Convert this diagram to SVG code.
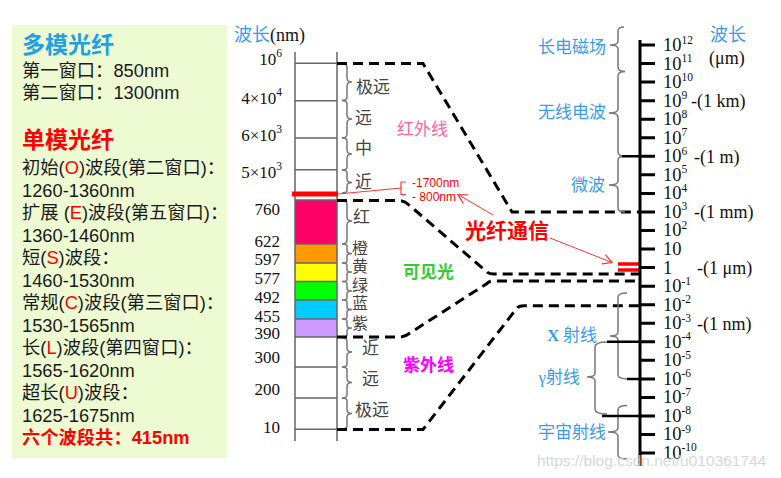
<svg xmlns="http://www.w3.org/2000/svg" width="781" height="478" viewBox="0 0 781 478">
<defs>
<style>
.lt{font-family:"Liberation Sans","Noto Sans CJK SC",sans-serif;font-size:18.3px;fill:#1a1a1a}
.r{fill:#ff0000}
.hd{font-family:"Liberation Sans","Noto Sans CJK SC",sans-serif;font-size:23px;font-weight:bold}
.cl{font-family:"Liberation Serif",serif;font-size:17px;fill:#111;text-anchor:end}
.tk{font-family:"Liberation Serif",serif;font-size:18.5px;fill:#111}
.sp{font-size:11.5px}
.bl{font-family:"Noto Sans CJK SC",sans-serif;font-size:17px;fill:#3a9bf0}
.gy{font-family:"Noto Sans CJK SC",sans-serif;font-size:17px;fill:#444}
.gs{font-family:"Noto Sans CJK SC",sans-serif;font-size:16px;fill:#444}
.col{stroke:#666;stroke-width:1.5;fill:none}
.br{stroke:#777;stroke-width:1.5;fill:none}
.dash{stroke:#000;stroke-width:3;fill:none;stroke-dasharray:10 6}
.tick{stroke:#000;stroke-width:3}
</style>
<marker id="ar" markerWidth="12" markerHeight="12" refX="10" refY="6" orient="auto" markerUnits="userSpaceOnUse">
<path d="M1 1 L10 6 L1 11" fill="none" stroke="#ff3333" stroke-width="1.2"/>
</marker>
</defs>
<rect width="781" height="478" fill="#fff"/>

<g id="left-panel">
<rect x="12" y="25" width="215" height="433" fill="#eefad2"/>
<text class="hd" x="22" y="53" fill="#1fa0e6">多模光纤</text>
<text class="lt" x="22" y="77">第一窗口：850nm</text>
<text class="lt" x="22" y="99">第二窗口：1300nm</text>
<text class="hd" x="22" y="148" fill="#ff0000">单模光纤</text>
<text class="lt" x="22" y="174">初始(<tspan class="r">O</tspan>)波段(第二窗口)：</text>
<text class="lt" x="22" y="196.5">1260-1360nm</text>
<text class="lt" x="22" y="219">扩展 (<tspan class="r">E</tspan>)波段(第五窗口)：</text>
<text class="lt" x="22" y="241.5">1360-1460nm</text>
<text class="lt" x="22" y="264">短(<tspan class="r">S</tspan>)波段：</text>
<text class="lt" x="22" y="286.5">1460-1530nm</text>
<text class="lt" x="22" y="309">常规(<tspan class="r">C</tspan>)波段(第三窗口)：</text>
<text class="lt" x="22" y="331.5">1530-1565nm</text>
<text class="lt" x="22" y="354">长(<tspan class="r">L</tspan>)波段(第四窗口)：</text>
<text class="lt" x="22" y="376.5">1565-1620nm</text>
<text class="lt" x="22" y="399">超长(<tspan class="r">U</tspan>)波段：</text>
<text class="lt" x="22" y="421.5">1625-1675nm</text>
<text class="lt" x="22" y="444" style="fill:#ff0000;font-weight:bold">六个波段共：415nm</text>
</g>

<g id="nm-column">
<text x="234" y="41" style="font-family:'Noto Sans CJK SC',sans-serif;font-size:18px;fill:#3a9bf0">波长<tspan style="font-family:'Liberation Serif',serif;fill:#111">(nm)</tspan></text>
<rect x="295" y="200" width="42" height="44" fill="#ff0066"/>
<rect x="295" y="244" width="42" height="19" fill="#ff9900"/>
<rect x="295" y="263" width="42" height="18.5" fill="#ffff00"/>
<rect x="295" y="281.5" width="42" height="18.5" fill="#00ff00"/>
<rect x="295" y="300" width="42" height="19" fill="#00ccff"/>
<rect x="295" y="319" width="42" height="18" fill="#cc99ff"/>
<path class="col" d="M295 52 V441 M337 52 V441 M295 63.3 H337 M295 100.7 H337 M295 138 H337 M295 169.7 H337 M295 200 H337 M295 244 H337 M295 263 H337 M295 281.5 H337 M295 300 H337 M295 319 H337 M295 337 H337 M295 367 H337 M295 398 H337 M295 429.3 H337"/>
<text class="cl" x="282" y="65">10<tspan class="sp" dy="-8">6</tspan></text>
<text class="cl" x="282" y="104">4×10<tspan class="sp" dy="-8">4</tspan></text>
<text class="cl" x="282" y="141">6×10<tspan class="sp" dy="-8">3</tspan></text>
<text class="cl" x="282" y="178">5×10<tspan class="sp" dy="-8">3</tspan></text>
<text class="cl" x="280" y="215">760</text>
<text class="cl" x="280" y="246.5">622</text>
<text class="cl" x="280" y="265">597</text>
<text class="cl" x="280" y="284">577</text>
<text class="cl" x="280" y="303">492</text>
<text class="cl" x="280" y="321.5">455</text>
<text class="cl" x="280" y="339">390</text>
<text class="cl" x="280" y="362.5">300</text>
<text class="cl" x="280" y="395">200</text>
<text class="cl" x="280" y="432.5">10</text>
<line x1="292" y1="194" x2="338" y2="194" stroke="#ff0000" stroke-width="5"/>
</g>

<g id="nm-braces">
<path class="br" d="M342 63.5 Q347 63.5 347 67 L347 78 Q347 82 352 82 Q347 82 347 86 L347 97 Q347 100.5 342 100.5"/>
<path class="br" d="M342 100.5 Q347 100.5 347 104 L347 115 Q347 119 352 119 Q347 119 347 123 L347 134 Q347 138 342 138"/>
<path class="br" d="M342 138 Q347 138 347 141 L347 150 Q347 154 352 154 Q347 154 347 158 L347 167 Q347 170 342 170"/>
<path class="br" d="M342 170 Q347 170 347 173 L347 179 Q347 182.5 352 182.5 Q347 182.5 347 186 L347 190 Q347 193 342 193"/>
<path class="br" d="M342 201 Q347 201 347 204 L347 217 Q347 221 352 221 Q347 221 347 225 L347 240 Q347 244 342 244"/>
<path class="br" d="M342 244 Q347 244 347 246 L347 251 Q347 253.5 352 253.5 Q347 253.5 347 256 L347 261 Q347 263 342 263"/>
<path class="br" d="M342 263 Q347 263 347 265 L347 270 Q347 272 352 272 Q347 272 347 274 L347 279.5 Q347 281.5 342 281.5"/>
<path class="br" d="M342 281.5 Q347 281.5 347 283.5 L347 288.5 Q347 291 352 291 Q347 291 347 293.5 L347 298 Q347 300 342 300"/>
<path class="br" d="M342 300 Q347 300 347 302 L347 307 Q347 309.5 352 309.5 Q347 309.5 347 312 L347 317 Q347 319 342 319"/>
<path class="br" d="M342 319 Q347 319 347 321 L347 325.5 Q347 328 352 328 Q347 328 347 330.5 L347 335 Q347 337 342 337"/>
<path class="br" d="M342 338 Q347 338 347 341 L347 348 Q347 352 352 352 Q347 352 347 356 L347 364 Q347 367 342 367"/>
<path class="br" d="M342 367 Q347 367 347 370 L347 378.5 Q347 382.5 352 382.5 Q347 382.5 347 386.5 L347 395 Q347 398 342 398"/>
<path class="br" d="M342 398 Q347 398 347 401 L347 410 Q347 413.5 352 413.5 Q347 413.5 347 417 L347 426 Q347 429 342 429"/>
<text class="gy" x="356" y="92.5">极远</text>
<text class="gy" x="355" y="124">远</text>
<text class="gy" x="355" y="154">中</text>
<text class="gy" x="355" y="188">近</text>
<text class="gy" x="353" y="223">红</text>
<text class="gs" x="352" y="253.5">橙</text>
<text class="gs" x="352" y="272">黄</text>
<text class="gs" x="352" y="290.5">绿</text>
<text class="gs" x="352" y="309">蓝</text>
<text class="gs" x="352" y="328.5">紫</text>
<text class="gy" x="362" y="354">近</text>
<text class="gy" x="362" y="385">远</text>
<text class="gy" x="355" y="416">极远</text>
</g>

<g id="connectors">
<path class="dash" d="M337 63.5 H423 L512 212 H640"/>
<path class="dash" d="M337 200.5 H398 Q404 200.5 409 205 L487 272 Q489 274 494 274 H640"/>
<path class="dash" d="M337 337 H400 Q405 337 410 333 L487 283.5 Q489 281 494 281 H640"/>
<path class="dash" d="M337 429.5 H423 L517 308 Q519 305.7 524 305.7 H640"/>
</g>

<g id="region-labels">
<text x="397" y="135" style="font-family:'Noto Sans CJK SC',sans-serif;font-size:17px;fill:#ff6699">红外线</text>
<text x="403" y="277.5" style="font-family:'Noto Sans CJK SC',sans-serif;font-size:17px;font-weight:bold;fill:#33cc33">可见光</text>
<text x="403" y="371" style="font-family:'Noto Sans CJK SC',sans-serif;font-size:17px;font-weight:bold;fill:#ff00ff">紫外线</text>
</g>

<g id="fiber-annotation">
<line x1="338" y1="194" x2="401" y2="188" stroke="#ff3333" stroke-width="1"/>
<path d="M406 182 H401 V194.5 H406" fill="none" stroke="#ff3333" stroke-width="1.2"/>
<text x="412" y="186.5" style="font-family:'Liberation Sans',sans-serif;font-size:12px;fill:#ff0000">-1700nm</text>
<text x="412" y="201" style="font-family:'Liberation Sans',sans-serif;font-size:12px;fill:#ff0000">- 800nm</text>
<text x="465" y="237.5" style="font-family:'Noto Sans CJK SC',sans-serif;font-size:21px;font-weight:bold;fill:#ff0000">光纤通信</text>
<line x1="493" y1="215" x2="458" y2="194.5" stroke="#ff3333" stroke-width="1" marker-end="url(#ar)"/>
<line x1="550" y1="238" x2="612" y2="262.5" stroke="#ff3333" stroke-width="1" marker-end="url(#ar)"/>
<line x1="618" y1="264" x2="641" y2="264" stroke="#ff0000" stroke-width="3.5"/>
<line x1="618" y1="270" x2="641" y2="270" stroke="#ff0000" stroke-width="3.5"/>
</g>

<g id="um-axis">
<text x="710" y="41" style="font-family:'Noto Sans CJK SC',sans-serif;font-size:18px;fill:#3a9bf0">波长</text>
<text class="tk" x="709" y="64" style="font-size:18px">(μm)</text>
<line x1="640" y1="40" x2="640" y2="466" stroke="#000" stroke-width="3"/>
<path class="tick" d="M640 45 H655 M640 63.55 H655 M640 82.1 H655 M640 100.65 H655 M640 119.2 H655 M640 137.75 H655 M640 156.3 H655 M640 174.85 H655 M640 193.4 H655 M640 211.95 H655 M640 230.5 H655 M640 249.05 H655 M640 267.6 H655 M640 286.15 H655 M640 304.7 H655 M640 323.25 H655 M640 341.8 H655 M640 360.35 H655 M640 378.9 H655 M640 397.45 H655 M640 416 H655 M640 434.55 H655 M640 453.1 H655"/>
<text class="tk" x="663" y="51">10<tspan class="sp" dy="-7.5">12</tspan></text>
<text class="tk" x="663" y="69.5">10<tspan class="sp" dy="-7.5">11</tspan></text>
<text class="tk" x="663" y="88">10<tspan class="sp" dy="-7.5">10</tspan></text>
<text class="tk" x="663" y="106.5">10<tspan class="sp" dy="-7.5">9</tspan></text>
<text class="tk" x="663" y="125">10<tspan class="sp" dy="-7.5">8</tspan></text>
<text class="tk" x="663" y="143.5">10<tspan class="sp" dy="-7.5">7</tspan></text>
<text class="tk" x="663" y="162">10<tspan class="sp" dy="-7.5">6</tspan></text>
<text class="tk" x="663" y="180.5">10<tspan class="sp" dy="-7.5">5</tspan></text>
<text class="tk" x="663" y="199">10<tspan class="sp" dy="-7.5">4</tspan></text>
<text class="tk" x="663" y="217.5">10<tspan class="sp" dy="-7.5">3</tspan></text>
<text class="tk" x="663" y="236">10<tspan class="sp" dy="-7.5">2</tspan></text>
<text class="tk" x="663" y="255">10</text>
<text class="tk" x="663" y="273.5">1</text>
<text class="tk" x="663" y="292">10<tspan class="sp" dy="-7.5">-1</tspan></text>
<text class="tk" x="663" y="310.5">10<tspan class="sp" dy="-7.5">-2</tspan></text>
<text class="tk" x="663" y="329">10<tspan class="sp" dy="-7.5">-3</tspan></text>
<text class="tk" x="663" y="347.5">10<tspan class="sp" dy="-7.5">-4</tspan></text>
<text class="tk" x="663" y="366">10<tspan class="sp" dy="-7.5">-5</tspan></text>
<text class="tk" x="663" y="384.5">10<tspan class="sp" dy="-7.5">-6</tspan></text>
<text class="tk" x="663" y="403">10<tspan class="sp" dy="-7.5">-7</tspan></text>
<text class="tk" x="663" y="421.5">10<tspan class="sp" dy="-7.5">-8</tspan></text>
<text class="tk" x="663" y="440">10<tspan class="sp" dy="-7.5">-9</tspan></text>
<text class="tk" x="663" y="458.5">10<tspan class="sp" dy="-7.5">-10</tspan></text>
<text class="tk" x="691" y="107" style="font-size:18px">-(1 km)</text>
<text class="tk" x="694" y="162.5" style="font-size:18px">-(1 m)</text>
<text class="tk" x="694" y="218" style="font-size:18px">-(1 mm)</text>
<text class="tk" x="697" y="274" style="font-size:18px">-(1 μm)</text>
<text class="tk" x="697" y="330" style="font-size:18px">-(1 nm)</text>
</g>

<g id="em-bands">
<path class="br" d="M624 27 Q618 27 618 31 L618 41 Q618 45 610 45 Q618 45 618 49 L618 67 Q618 71.5 625 71.5"/>
<path class="br" d="M625 71.5 Q618 71.5 618 76 L618 109 Q618 113 609 113 Q618 113 618 117 L618 152 Q618 156.3 625 156.3"/>
<path class="br" d="M625 156.3 Q618 156.3 618 160 L618 181 Q618 185 609 185 Q618 185 618 189 L618 208 Q618 212 625 212"/>
<path class="br" d="M627 293 Q618 293 618 297 L618 332 Q618 336 610 336 Q618 336 618 340 L618 375 Q618 378.9 628 378.9"/>
<path class="br" d="M607 342 Q595 342 595 347 L595 373 Q595 377 587 377 Q595 377 595 381 L595 409 Q595 414 607 414"/>
<path class="br" d="M627 405.5 Q618 405.5 618 410 L618 428 Q618 432 608 432 Q618 432 618 436 L618 455 Q618 459 627 459"/>
<path d="M622 156.3 H640 M627 378.9 H640 M607 341.8 H640 M602 416 H640" stroke="#000" stroke-width="2.5"/>
<text class="bl" x="606" y="53" text-anchor="end">长电磁场</text>
<text class="bl" x="606" y="118" text-anchor="end">无线电波</text>
<text class="bl" x="605" y="191" text-anchor="end">微波</text>
<text class="bl" x="597" y="341" text-anchor="end"><tspan style="font-family:'Liberation Serif',serif;font-weight:bold">X</tspan> 射线</text>
<text class="bl" x="580" y="382.5" text-anchor="end"><tspan style="font-family:'Liberation Serif',serif">γ</tspan>射线</text>
<text class="bl" x="606" y="438" text-anchor="end">宇宙射线</text>
</g>

<text x="537" y="466" style="font-family:'Liberation Sans',sans-serif;font-size:15.5px;fill:#d4d4d4;opacity:0.9">https://blog.csdn.net/u010361744</text>
</svg>
